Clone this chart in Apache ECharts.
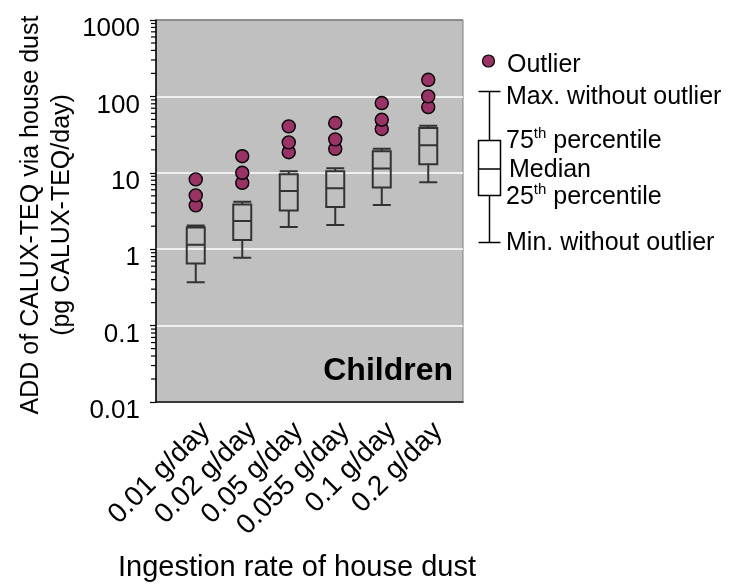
<!DOCTYPE html>
<html>
<head>
<meta charset="utf-8">
<script src="https://cdn.jsdelivr.net/npm/echarts@6/dist/echarts.min.js"></script>
<style>
  html, body { margin: 0; padding: 0; background: #fff; }
  #chart { width: 735px; height: 584px; }
</style>
</head>
<body>
<div id="chart"></div>
<script>
// Ingestion-rate scenarios (x axis)
const categories = ['0.01 g/day', '0.02 g/day', '0.05 g/day', '0.055 g/day', '0.1 g/day', '0.2 g/day'];

// Box statistics, pg CALUX-TEQ/day
const minWithoutOutlier = [0.37, 0.77, 1.95, 2.07, 3.78, 7.5];
const percentile25 = [0.65, 1.32, 3.22, 3.56, 6.43, 12.9];
const median = [1.14, 2.34, 5.76, 6.3, 11.4, 22.9];
const percentile75 = [1.92, 3.86, 9.6, 10.5, 19.1, 38.6];
const maxWithoutOutlier = [2.05, 4.19, 10.5, 11.5, 20.7, 41.4];

// Outliers per scenario
const outliers = [
  [3.75, 5.06, 8.2],
  [7.4, 10, 16.5],
  [18.6, 25, 40.5],
  [20.6, 27.4, 44.9],
  [37.4, 49.5, 81.8],
  [72.5, 100, 165]
];

// Log axis range and its decades
const yMin = 0.01;
const yMax = 1000;
const decades = [0.01, 0.1, 1, 10, 100];

const FONT = 'Liberation Sans, Arial, sans-serif';

const boxData = categories.map((c, i) => [
  minWithoutOutlier[i], percentile25[i], median[i], percentile75[i], maxWithoutOutlier[i]
]);
const outlierData = [];
outliers.forEach((vals, i) => vals.forEach(v => outlierData.push([categories[i], v])));

// Minor tick values 2..9 within each decade of the log axis
const minorTicks = [];
decades.forEach(d => { for (let k = 2; k <= 9; k++) minorTicks.push([0, k * d]); });

const chart = echarts.init(document.getElementById('chart'), null, { renderer: 'canvas' });

const plotLeft = 156, plotTop = 20, plotRight = 272, plotBottom = 182;

chart.setOption({
  animation: false,
  backgroundColor: '#fff',
  grid: [
    {
      left: plotLeft, top: plotTop, right: plotRight, bottom: plotBottom,
      outerBoundsMode: 'none', containLabel: false,
      show: true, backgroundColor: '#c0c0c0', borderColor: '#808080', borderWidth: 1
    },
    {
      left: 172.5, width: 279, top: plotTop, bottom: plotBottom,
      outerBoundsMode: 'none', containLabel: false
    }
  ],
  xAxis: [
    {
      gridIndex: 0, type: 'value', min: 0, max: 1,
      axisLine: { show: true, lineStyle: { color: '#000', width: 1.5 } },
      axisTick: { show: false }, axisLabel: { show: false }, splitLine: { show: false },
      name: 'Ingestion rate of house dust', nameLocation: 'middle', nameGap: 151,
      nameTextStyle: { fontFamily: FONT, fontSize: 29, color: '#000', padding: [0, 25, 0, 0] }
    },
    {
      gridIndex: 1, type: 'category', data: categories, boundaryGap: true,
      axisLine: { show: false }, axisTick: { show: false },
      axisLabel: { rotate: 45, fontFamily: FONT, fontSize: 28, color: '#000', margin: 15,
        verticalAlign: 'top', interval: 0 }
    }
  ],
  yAxis: [
    {
      gridIndex: 0, type: 'log', logBase: 10, min: yMin, max: yMax,
      axisLine: { show: true, lineStyle: { color: '#000', width: 1.5 } },
      axisTick: { show: true, inside: false, length: 6, lineStyle: { color: '#000', width: 1.2 } },
      axisLabel: { fontFamily: FONT, fontSize: 26, color: '#000', margin: 16,
        verticalAlign: 'top', lineHeight: 18, formatter: v => String(v) },
      splitLine: { show: true, lineStyle: { color: ['#fff', '#fff', '#fff', '#fff', '#fff', '#808080'], width: 1.5 } },
      name: 'ADD of CALUX-TEQ via house dust\n(pg CALUX-TEQ/day)',
      nameLocation: 'middle', nameGap: 78,
      nameTextStyle: { fontFamily: FONT, fontSize: 25, lineHeight: 31, color: '#000', align: 'center',
        padding: [0, 8, 0, 0] }
    },
    {
      gridIndex: 1, type: 'log', logBase: 10, min: yMin, max: yMax, show: false
    }
  ],
  graphic: [
    { type: 'text', right: 282, top: 355,
      style: { text: 'Children', font: 'bold 32px Liberation Sans, Arial, sans-serif', fill: '#000' } },
    // Legend: outlier marker
    { type: 'circle', shape: { cx: 488.5, cy: 61, r: 6 },
      style: { fill: '#993366', stroke: '#000', lineWidth: 1.2 } },
    { type: 'text', left: 507, top: 53,
      style: { text: 'Outlier', font: '25px Liberation Sans, Arial, sans-serif', fill: '#000' } },
    // Legend: box element key
    { type: 'group', left: 476, top: 89, children: [
      { type: 'line', shape: { x1: 12, y1: 1, x2: 12, y2: 50 }, style: { stroke: '#000', lineWidth: 1.5 } },
      { type: 'line', shape: { x1: 12, y1: 105, x2: 12, y2: 152 }, style: { stroke: '#000', lineWidth: 1.5 } },
      { type: 'line', shape: { x1: 1, y1: 1, x2: 23, y2: 1 }, style: { stroke: '#000', lineWidth: 1.5 } },
      { type: 'line', shape: { x1: 1, y1: 152, x2: 23, y2: 152 }, style: { stroke: '#000', lineWidth: 1.5 } },
      { type: 'rect', shape: { x: 1, y: 50, width: 22, height: 55 }, style: { fill: '#fff', stroke: '#000', lineWidth: 1.5 } },
      { type: 'line', shape: { x1: 1, y1: 78.5, x2: 23, y2: 78.5 }, style: { stroke: '#000', lineWidth: 1.5 } }
    ] },
    { type: 'text', left: 506, top: 85,
      style: { text: 'Max. without outlier', font: '25px Liberation Sans, Arial, sans-serif', fill: '#000' } },
    { type: 'text', left: 506, top: 126,
      style: { text: '{n|75}{s|th}{n| percentile}', fill: '#000',
        rich: { n: { fontFamily: FONT, fontSize: 25, lineHeight: 28, verticalAlign: 'bottom' },
                s: { fontFamily: FONT, fontSize: 15, lineHeight: 28, verticalAlign: 'top' } } } },
    { type: 'text', left: 509, top: 158,
      style: { text: 'Median', font: '25px Liberation Sans, Arial, sans-serif', fill: '#000' } },
    { type: 'text', left: 506, top: 182,
      style: { text: '{n|25}{s|th}{n| percentile}', fill: '#000',
        rich: { n: { fontFamily: FONT, fontSize: 25, lineHeight: 28, verticalAlign: 'bottom' },
                s: { fontFamily: FONT, fontSize: 15, lineHeight: 28, verticalAlign: 'top' } } } },
    { type: 'text', left: 506, top: 231,
      style: { text: 'Min. without outlier', font: '25px Liberation Sans, Arial, sans-serif', fill: '#000' } }
  ],
  series: [
    {
      // minor ticks of the log axis
      type: 'custom', name: 'minorTicks', xAxisIndex: 0, yAxisIndex: 0,
      data: minorTicks, clip: false, silent: true, z: 5,
      renderItem: (params, api) => {
        const p = api.coord([api.value(0), api.value(1)]);
        return { type: 'line', shape: { x1: p[0] - 5, y1: p[1], x2: p[0], y2: p[1] },
                 style: { stroke: '#000', lineWidth: 1.2 } };
      }
    },
    {
      type: 'boxplot', name: 'Box', xAxisIndex: 1, yAxisIndex: 1,
      data: boxData, boxWidth: [18, 18],
      itemStyle: { color: 'rgba(0,0,0,0)', borderColor: '#333', borderWidth: 2 },
      emphasis: { disabled: true }
    },
    {
      type: 'scatter', name: 'Outlier', xAxisIndex: 1, yAxisIndex: 1,
      data: outlierData, symbol: 'circle', symbolSize: 13,
      itemStyle: { color: '#993366', borderColor: '#000', borderWidth: 1.4, opacity: 1 },
      emphasis: { disabled: true }, z: 3
    }
  ]
});
</script>
</body>
</html>
